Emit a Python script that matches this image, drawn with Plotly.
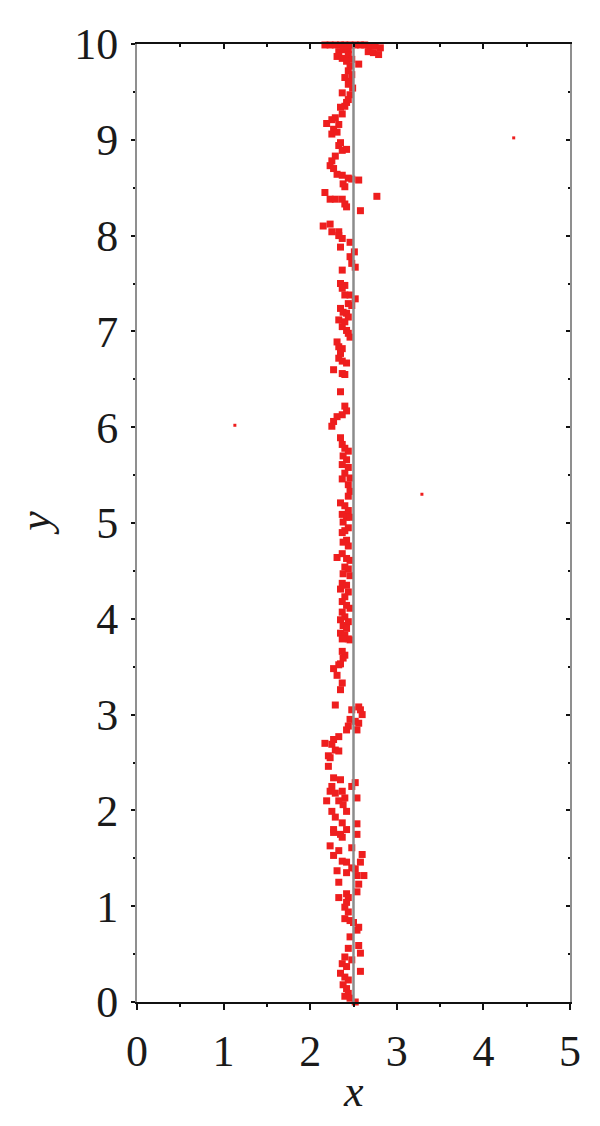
import plotly.graph_objects as go

# Cluster particle positions (x, y)
x_pts = [
    2.17, 2.23, 2.29, 2.35, 2.40, 2.46, 2.52, 2.58, 2.63, 2.69, 2.75, 2.81, 2.67, 2.73, 2.79,
    2.33, 2.38, 2.44, 2.31, 2.37, 2.44, 2.48, 2.42, 2.46, 2.56, 2.44, 2.48, 2.40, 2.46, 2.44,
    2.49, 2.37, 2.46, 2.44, 2.42, 2.40, 2.35, 2.37, 2.25, 2.29, 2.19, 2.33, 2.27, 2.25, 2.31,
    2.35, 2.33, 2.37, 2.42, 2.29, 2.25, 2.23, 2.27, 2.31, 2.37, 2.44, 2.48, 2.56, 2.38, 2.40,
    2.17, 2.23, 2.29, 2.37, 2.40, 2.42, 2.77, 2.58, 2.15, 2.23, 2.25, 2.33,
    # 8 - 6
    2.33, 2.37, 2.35, 2.46, 2.51, 2.46, 2.48, 2.52, 2.37, 2.35, 2.40, 2.37, 2.46, 2.40, 2.52,
    2.44, 2.48, 2.35, 2.38, 2.42, 2.44, 2.33, 2.40, 2.37, 2.42, 2.44, 2.46, 2.31, 2.33, 2.37,
    2.35, 2.33, 2.37, 2.42, 2.27, 2.37, 2.40, 2.35, 2.40, 2.42, 2.37, 2.31, 2.27, 2.25,
    # 6 - 3.9
    2.35, 2.37, 2.40, 2.44, 2.38, 2.42, 2.37, 2.44, 2.40, 2.46, 2.37, 2.44, 2.46, 2.44, 2.35,
    2.40, 2.44, 2.37, 2.42, 2.46, 2.38, 2.44, 2.40, 2.37, 2.42, 2.38, 2.44, 2.31, 2.37, 2.42,
    2.46, 2.40, 2.44, 2.38, 2.46, 2.37, 2.42, 2.35, 2.44, 2.40, 2.37, 2.42, 2.46, 2.37, 2.40,
    2.35, 2.44, 2.38, 2.42,
    # 3.9 - 1.8
    2.35, 2.40, 2.37, 2.44, 2.46, 2.37, 2.40, 2.38, 2.35, 2.27, 2.33, 2.31, 2.37, 2.35, 2.29,
    2.56, 2.58, 2.48, 2.60, 2.46, 2.52, 2.56, 2.44, 2.42, 2.54, 2.33, 2.27, 2.17, 2.25, 2.29,
    2.33, 2.21, 2.23, 2.21, 2.27, 2.35, 2.48, 2.52, 2.25, 2.23, 2.29, 2.37, 2.40, 2.54, 2.19,
    2.33, 2.38, 2.25, 2.42, 2.29, 2.37, 2.54, 2.27, 2.42,
    # 1.8 - 0
    2.27, 2.35, 2.54, 2.37, 2.23, 2.48, 2.33, 2.60, 2.27, 2.37, 2.42, 2.58, 2.48, 2.31, 2.52,
    2.42, 2.62, 2.54, 2.33, 2.56, 2.54, 2.42, 2.33, 2.44, 2.42, 2.40, 2.44, 2.40, 2.46, 2.50,
    2.56, 2.54, 2.46, 2.56, 2.44, 2.58, 2.40, 2.48, 2.37, 2.42, 2.58, 2.40, 2.35, 2.44, 2.38,
    2.42, 2.44, 2.40, 2.46, 2.52,
]
y_pts = [
    9.99, 9.99, 9.99, 9.99, 9.99, 9.99, 9.99, 9.99, 9.99, 9.98, 9.98, 9.96, 9.92, 9.91, 9.89,
    9.92, 9.94, 9.94, 9.87, 9.85, 9.89, 9.84, 9.82, 9.77, 9.79, 9.72, 9.68, 9.65, 9.61, 9.58,
    9.54, 9.49, 9.47, 9.42, 9.39, 9.35, 9.34, 9.27, 9.21, 9.23, 9.17, 9.16, 9.11, 9.06, 9.08,
    8.97, 8.94, 8.89, 8.90, 8.83, 8.78, 8.73, 8.70, 8.64, 8.63, 8.60, 8.59, 8.58, 8.54, 8.51,
    8.45, 8.38, 8.38, 8.38, 8.33, 8.30, 8.41, 8.26, 8.10, 8.12, 8.04, 8.04,
    # 8 - 6
    8.00, 7.97, 7.88, 7.93, 7.83, 7.78, 7.71, 7.67, 7.64, 7.50, 7.48, 7.45, 7.38, 7.38, 7.34,
    7.29, 7.27, 7.24, 7.20, 7.19, 7.15, 7.12, 7.10, 7.05, 7.01, 6.98, 6.94, 6.89, 6.84, 6.82,
    6.77, 6.72, 6.69, 6.67, 6.60, 6.56, 6.55, 6.37, 6.22, 6.17, 6.13, 6.11, 6.06, 6.01,
    # 6 - 3.9
    5.89, 5.82, 5.78, 5.75, 5.70, 5.66, 5.61, 5.58, 5.52, 5.47, 5.46, 5.40, 5.33, 5.28, 5.21,
    5.18, 5.13, 5.09, 5.06, 5.06, 5.01, 4.95, 4.92, 4.90, 4.82, 4.80, 4.76, 4.64, 4.68, 4.63,
    4.61, 4.54, 4.52, 4.47, 4.45, 4.37, 4.35, 4.31, 4.28, 4.23, 4.18, 4.14, 4.11, 4.07, 4.02,
    3.99, 3.97, 3.93, 3.90,
    # 3.9 - 1.8
    3.85, 3.83, 3.79, 3.79, 3.78, 3.66, 3.62, 3.59, 3.53, 3.48, 3.52, 3.41, 3.33, 3.26, 3.10,
    3.08, 3.05, 3.05, 3.00, 2.95, 2.93, 2.91, 2.88, 2.84, 2.84, 2.77, 2.74, 2.70, 2.69, 2.63,
    2.62, 2.57, 2.55, 2.46, 2.34, 2.32, 2.25, 2.29, 2.25, 2.20, 2.18, 2.20, 2.13, 2.13, 2.10,
    2.10, 2.06, 1.99, 1.99, 1.93, 1.87, 1.86, 1.80, 1.80,
    # 1.8 - 0
    1.77, 1.75, 1.75, 1.72, 1.63, 1.61, 1.58, 1.54, 1.53, 1.47, 1.46, 1.46, 1.40, 1.37, 1.39,
    1.35, 1.32, 1.32, 1.25, 1.23, 1.15, 1.13, 1.09, 1.09, 1.04, 0.99, 0.94, 0.87, 0.85, 0.83,
    0.78, 0.75, 0.68, 0.59, 0.56, 0.51, 0.47, 0.44, 0.40, 0.37, 0.32, 0.26, 0.30, 0.23, 0.18,
    0.14, 0.09, 0.06, 0.04, 0.00,
]

# isolated particles
x_out = [4.35, 1.13, 3.29]
y_out = [9.02, 6.02, 5.30]

# vertical reference line
x_line = [2.5, 2.5]
y_line = [0, 10]

x_ticks = [0, 1, 2, 3, 4, 5]
y_ticks = [0, 1, 2, 3, 4, 5, 6, 7, 8, 9, 10]

RED = "#ee1e1e"
FONT = "Liberation Serif"
TXT = "#1a1a1a"

fig = go.Figure()
fig.add_trace(go.Scatter(x=x_pts, y=y_pts, mode="markers",
                         marker=dict(symbol="square", size=7, color=RED, line=dict(width=0)),
                         showlegend=False, cliponaxis=False))
fig.add_trace(go.Scatter(x=x_out, y=y_out, mode="markers",
                         marker=dict(symbol="square", size=3, color=RED, line=dict(width=0)),
                         showlegend=False))
fig.add_trace(go.Scatter(x=x_line, y=y_line, mode="lines",
                         line=dict(color="#8c8c8c", width=2.5), showlegend=False))
# dummy trace to activate the mirror axes
fig.add_trace(go.Scatter(x=[None], y=[None], xaxis="x2", yaxis="y2", showlegend=False))

tickfont = dict(family=FONT, size=44, color=TXT)

fig.update_layout(
    width=600, height=1126,
    margin=dict(l=129, r=38, t=31, b=132),
    plot_bgcolor="white", paper_bgcolor="white",
    xaxis=dict(range=[0, 5], tickvals=x_ticks, showgrid=False, zeroline=False,
               showline=True, linecolor="#111111", linewidth=2,
               ticks="outside", ticklen=6, tickwidth=2, tickcolor="#111111",
               minor=dict(dtick=0.5, ticks="outside", ticklen=3, tickwidth=2, tickcolor="#111111"),
               tickfont=tickfont, ticklabelstandoff=3),
    yaxis=dict(range=[0, 10], tickvals=y_ticks, showgrid=False, zeroline=False,
               showline=True, linecolor="#8f8f8f", linewidth=2,
               ticks="outside", ticklen=4, tickwidth=2, tickcolor="#111111",
               minor=dict(dtick=0.5, ticks="outside", ticklen=2, tickwidth=2, tickcolor="#111111"),
               tickfont=tickfont, ticklabelstandoff=4),
    xaxis2=dict(range=[0, 5], overlaying="x", side="top", tickvals=x_ticks,
                showticklabels=False, showgrid=False, zeroline=False,
                showline=True, linecolor="#111111", linewidth=2,
                ticks="inside", ticklen=5, tickwidth=2, tickcolor="#111111",
                minor=dict(dtick=0.5, ticks="inside", ticklen=3, tickwidth=2, tickcolor="#111111")),
    yaxis2=dict(range=[0, 10], overlaying="y", side="right", tickvals=y_ticks,
                showticklabels=False, showgrid=False, zeroline=False,
                showline=True, linecolor="#8f8f8f", linewidth=2,
                ticks="inside", ticklen=4, tickwidth=2, tickcolor="#111111",
                minor=dict(dtick=0.5, ticks="inside", ticklen=2, tickwidth=2, tickcolor="#111111")),
    annotations=[
        dict(text="<i>x</i>", xref="paper", yref="paper", x=0.5, y=-0.093,
             xanchor="center", yanchor="middle", showarrow=False,
             font=dict(family=FONT, size=44, color=TXT)),
        dict(text="<i>y</i>", xref="paper", yref="paper", x=-0.236, y=0.5,
             xanchor="center", yanchor="middle", showarrow=False, textangle=-90,
             font=dict(family=FONT, size=44, color=TXT)),
    ],
)

fig.write_html("out.html")
